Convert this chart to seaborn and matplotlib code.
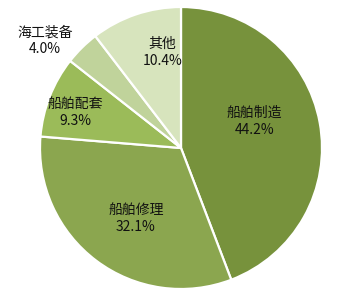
import matplotlib
matplotlib.use("Agg")
import matplotlib.pyplot as plt
import seaborn as sns

sns.set_theme(style="white")
plt.rcParams['font.family'] = ['Noto Sans CJK SC', 'DejaVu Sans']

categories = ["船舶制造", "船舶修理", "船舶配套", "海工装备", "其他"]
values = [44.2, 32.1, 9.3, 4.0, 10.4]
colors = ["#77923C", "#8BA64F", "#9BBB59", "#C0D39B", "#D7E4BD"]
# label positions (pie radius units, relative to centre)
label_pos = [(0.52, 0.19), (-0.32, -0.50), (-0.75, 0.25), (-0.965, 0.76), (-0.13, 0.68)]

fig = plt.figure(figsize=(3.52, 3.01), dpi=100)
ax = fig.add_axes([0, 0, 1, 1])
wedges, texts = ax.pie(values, colors=colors, startangle=90, counterclock=False,
                       radius=1.0, wedgeprops=dict(edgecolor="white", linewidth=1.6),
                       labels=[f"{c}\n{v:.1f}%" for c, v in zip(categories, values)],
                       labeldistance=0.5,
                       textprops=dict(fontsize=10, ha="center", va="center", fontweight="medium",
                                      linespacing=1.3, color="#111111"))
for t, p in zip(texts, label_pos):
    t.set_position(p)
    t.set_ha("center")
    t.set_va("center")

ax.set_xlim(-181/141, (352-181)/141)
ax.set_ylim(-153/141, 148/141)
ax.set_aspect("equal")
ax.axis("off")
fig.savefig("out.png", dpi=100)
